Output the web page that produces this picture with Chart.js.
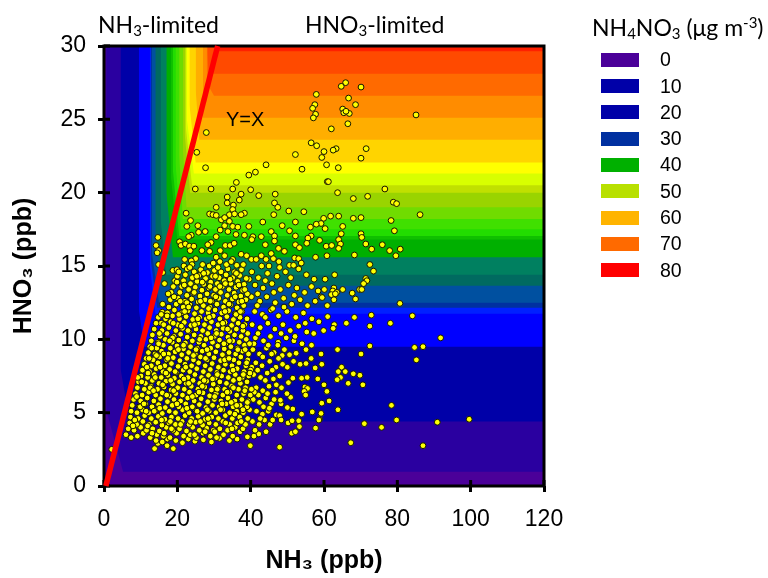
<!DOCTYPE html>
<html>
<head>
<meta charset="utf-8">
<style>
  body { margin: 0; background: #fff; width: 768px; height: 578px; overflow: hidden; position: relative; }
  canvas { position: absolute; left: 0; top: 0; }
  .lbl { position: absolute; white-space: nowrap; color: #000; line-height: 1; }
  .cal { font-family: Lato, sans-serif; font-size: 23px; }
  .cal sub { font-size: 15px; line-height: 0; vertical-align: -3px; }
  .cal sup { font-size: 15px; line-height: 0; vertical-align: 8px; }
  .ari { font-family: "Liberation Sans", sans-serif; }
  .swatch { position: absolute; left: 601px; width: 38px; height: 14px; }
</style>
</head>
<body>
<canvas id="c" width="768" height="578"></canvas>
<div class="lbl cal" style="left:98px;top:13px">NH<sub>3</sub>-limited</div>
<div class="lbl cal" style="left:305px;top:13px">HNO<sub>3</sub>-limited</div>
<div class="lbl cal" style="left:592px;top:16px">NH<sub>4</sub>NO<sub>3</sub> (&mu;g m<sup>-3</sup>)</div>
<div class="lbl ari" style="left:226px;top:109px;font-size:20px">Y=X</div>
<div id="legend"></div>
<script src="https://cdn.jsdelivr.net/npm/chart.js@4"></script>
<script>
// contour bands, lowest level first
const bandColors = ['#4b0099','#2a00a0','#0000a8','#0000ff','#0020ff','#0030a0','#0050a0','#006a60','#008060','#00b000','#10c000','#22dd00','#40e000','#70dc00','#99d400','#c0e000','#d8ff00','#ffff00','#ffd400','#ffae00','#ff8c00','#ff6a00','#ff4a00','#ff2000'];
const bandRightY = [0,0.97,4.4,9.5,11.75,12.15,12.5,13.65,14.4,15.6,16.8,17.05,17.5,18.2,19,20,20.5,21.3,22.05,23.6,25.1,26.6,28.1,29.65];
const bandKneeX = [0,5.2,7,11,14,14.5,15,15.8,17,18.8,20,20.5,21,21.5,22.5,23.5,24,24.5,25,26,27,30,28.5,31];
const bandKneeY = [0,5.2,8,12,15,15.5,16,17,18,20,21,21.5,22,22.5,23,24,24.5,25,26,27,28,27.5,29.5,30];
const bandTopX = [0,0.6,4.5,9.5,12.5,12.7,13,14,15.5,17,18.3,18.8,19.5,20.5,21.5,22,22.3,22.6,23.3,25,27,28,28.2,31];

// legend
const legendLabels = ['0','10','20','30','40','50','60','70','80'];
const legendColors = ['#4b0099','#0000a8','#0000a8','#0030a0','#00b000','#b8e000','#ffb400','#ff6a00','#ff0000'];

// y=x reference line as plotted
const refLineNH3 = [0.5, 31];
const refLineHNO3 = [0, 30];

// [NH3, HNO3]: outliers
const obsSparse = [[27.9,24.1],[25.3,22.75],[27.7,21.7],[24.9,20.25],[29.2,20.25],[35.1,20.25],[36.1,20.7],[39.5,21.2],[41.3,21.4],[44.2,21.9],[40,20.2],[57.9,26.7],[57.5,26],[56.9,25.75],[57.7,25.35],[57.1,25.1],[56.5,23.4],[58,23.2],[60,22.8],[59.4,22.4],[60.7,21.9],[52.2,22.6],[54,21.6],[60.9,20.75],
[65.9,27.5],[64.7,27.25],[70.1,27.2],[66.7,26.45],[68.6,26],[65.1,25.7],[65.4,25.45],[66.9,25.4],[66,25.55],[85.1,25.3],[66.5,24.7],[62,24.35],[71.5,23],[70.1,22.35],[63.3,23],[62.5,22.9],[63.9,21.7],[61.2,20.75],[76.6,20.25],
[63.7,20],[68,19.6],[71.9,19.75],[78.9,19.35],[79.8,19.25],[86.2,18.5],[61.8,18.4],[64,18.4],[68,18.25],[70.1,18.3],[59.9,18.25],[78.3,18.1],[59.2,17.9],[60.3,17.55],[65.1,17.7],[79.2,17.4],[64.7,17.2],[70.1,17.2],[70.3,16.95],[58.8,16.75],[64,16.8],[64.5,16.5],[60.6,16.35],[62.1,16.4],[64,16.2],[71.4,16.5],[75.9,16.45],[73,16.15],[77.9,16.05],[80.8,16.15],[79.6,15.7],[68.3,15.75],[60.8,15.7],[72.5,15.1],[73.5,14.65],[62.9,14.4],[60.3,14.1],[71.4,14.15],[71.7,14],[70.8,13.8],[60.1,13.4],[62.7,13.5],[62.4,13.3],[63.5,13.2],[65.1,13.4],[69.7,13.4],[70.3,13.4],[62,13.05],[63.1,13.1],[67.7,13.15],[59.2,12.9],[59.5,12.85],[68.6,12.75],[62.7,12.7],[80.7,12.45],[60.9,12.3],[61,11.55],[68.3,11.5],[72.9,11.65],[84.1,11.6],[66.1,11.1],[62.8,11],[62.5,10.75],[72.5,10.9],[78.1,11.1],[59.9,10.6],[91.8,10.1],
[72.5,9.55],[63.7,9.3],[59.2,9],[70.1,9],[84.7,9.45],[87,9.5],[85.2,8.6],[59.4,8.3],[64.8,8.1],[63.9,7.8],[65.8,7.8],[68,7.65],[69.8,7.55],[64.5,7.4],[63.6,7.25],[66.6,7],[60,6.9],[70.6,6.9],[60.8,6.45],[61.4,5.8],[59.4,5.65],[78.4,5.5],[63.8,5.2],[59.2,4.95],[58.8,4.55],[79.8,4.5],[99.6,4.55],[90.9,4.35],[71,4.25],[75.7,4],[67.3,2.95],[87,2.75],
[2.1,2.5],[13.8,2.55],[18.9,2.55],[17.2,2.75],[14.7,2.9],[39.9,2.75],[47.9,2.65],[51.2,3.6],[52.2,3.7],[57.7,3.95],[50.2,4.3],[51.3,4.45],[53.1,4.45],[53.3,4.05],[58.6,4.5],[47,4.85],[47.9,4.8],[48.3,4.5],[53.9,4.9],[56.8,5.05],[51.5,5.25],[50,5.35],[48.3,5.6],[48.1,5.85],[50.9,6.05],[49.9,6.3],[54.8,6.75],[55.5,6.65],[54.6,6.45],[55,6.2],[55.4,7.4],[53.9,7.35],[58.3,7.3],[50.3,7.05],[51.5,7.35],[57.6,8.05],[53.5,8.3],[55.1,8.35],[56.5,8.7],[51.7,8.5],[55.1,9.3],[48.6,8.9],[50.6,8.95],[52.4,9.05],[42.2,3.55],[39.1,3.35],[37.1,3.7]];

// upper cloud, HNO3 about 15 to 20
const obsUpper = [[42.2,19.8],[33.6,19.7],[37.4,19.9],[36.9,19.5],[46.7,19.9],[33.6,19.3],[35.3,19.15],[46.5,19.3],[47.4,19],[30.6,19],[35.1,18.85],[34.2,18.5],[35.6,18.55],[50.4,18.75],[54.5,18.7],[22.4,18.6],[28.8,18.55],[29.7,18.5],[30.6,18.45],[38.3,18.6],[37.4,18.5],[46.3,18.5],[23.6,18.1],[32,18.15],[32.9,18.3],[43.3,18],[34.2,18.05],[25.6,17.75],[22.6,17.7],[32.9,17.75],[35.1,17.7],[36.5,17.65],[39.5,17.7],[48.6,17.75],[52.2,18],[56.3,17.65],[57.9,17.85],[31.7,17.45],[25.8,17.3],[27.6,17.35],[33.8,17.35],[45.6,17.35],[50.6,17.4],[30.6,17],[23.8,17.1],[23.1,17],[36,17.15],[38.3,17.1],[40.6,17],[40.3,16.8],[42.9,17],[46.5,17.05],[46.5,16.7],[52.2,17.05],[56.5,17.05],[55.6,16.9],[55.3,16.55],[14.7,16.95],[14.2,16.4],[14.9,16.05],[14.5,15.9],[20.6,16.65],[21,16.4],[22.2,16.5],[23.3,16.35],[23.5,16.05],[24.5,16.35],[29.2,16.6],[28.3,16.45],[28.8,16],[26.7,16.05],[31.7,16.05],[33.1,16.4],[34.4,16.4],[35.5,16.55],[44,16.45],[47.6,16.2],[49.2,16],[52.2,16.45],[53.3,16.25],[37.4,15.8],[38.9,15.7],[40.2,15.45],[41.5,15.45],[42.9,15.7],[44.2,15.45],[45.6,15.85],[46.2,15.5],[52,15.55],[53.1,15.5],[57.7,15.6],[47.7,15.3],[53.8,15.2],[50.6,15.05],[51.7,15.05],[53.1,14.8],[45,15],[22,15.45],[25,15.5],[23.8,15.35],[18.8,14.7],[19.9,14.75],[21.8,15],[30.6,15.6],[32.9,15.7],[35.1,15.45],[31.6,15.3],[14.9,15.1],[16,14.55],[16.5,13.8],[16,12.4],[15.9,11.85],[15.6,11.1]];

// right side of the main cloud, NH3 about 40 to 60
const obsRight = [[40.3,14.6],[42.1,14.2],[44.6,14.5],[47.2,14.3],[49.5,14.6],[55.2,14.4],[57.3,14.1],[41.2,13.7],[43.4,13.5],[45.8,13.8],[48.1,13.4],[50.3,13.7],[52.6,13.5],[54.7,13.2],[56.6,13.6],[58.4,13.3],[40.2,12.9],[42.5,12.6],[44.4,12.9],[46.7,12.5],[49,12.8],[51.2,12.4],[53.5,12.7],[55.5,12.3],[57.6,12.6],[41.1,11.9],[43.2,11.7],[45.5,12],[47.6,11.6],[49.9,11.9],[52.3,11.5],[54.4,11.8],[56.7,11.4],[58.6,11.2],[40.4,11],[42.6,10.8],[44.7,11.1],[46.6,10.7],[48.8,11],[50.8,10.6],[53.1,10.9],[55.3,10.5],[57.2,10.4],[41.3,10.1],[43.5,9.9],[45.4,10.2],[47.5,9.8],[49.7,10.1],[51.8,9.9],[54,9.7],[56.6,9.6],[40.6,9.3],[42.4,9],[44.3,9.4],[46.4,9.1],[47.4,9.6],[41.4,8.4],[43.1,8.2],[45.2,8.5],[46.9,8.1],[48.7,8.3],[50,8.1],[40.8,7.6],[42.7,7.4],[44.5,7.7],[46.2,7.3],[47.9,7.5],[41.5,6.7],[43.3,6.5],[45,6.8],[46.8,6.4],[48.4,6.7],[40.7,5.9],[42.4,5.7],[44.1,6],[45.7,5.6],[41.6,5.1],[43.2,4.9],[44.8,5.1],[40.5,4.4],[42.3,4.2],[43.8,4.5],[45.3,4.2],[41.2,3.8],
[41.9,13.1],[39.6,14.1],[44,14],[46.3,13.2],[49.1,12.2],[51.9,13],[47.9,14.9],[43,15],[50.9,14.2],[41.8,12.3],[44,11.5],[46,12.1],[48.3,10.4],[52.1,10.2],[54.9,11.1],[42,10.4],[44.8,9.6],[40.9,9.7],[43.3,8.8],[45.7,9],[49.2,9.3],[47.6,8.7],[41.9,7.9],[44,7.2],[45.9,7.9],[40.3,8.1],[47,6.9],[42.1,6.2],[44.6,6.3],[46.4,5.9],[41,6.4],[43.5,5.4],[45.1,5.3],[42.6,4.6],[46,4.5],[40.9,3.4],[44.2,3.7]];

// dense core, read row by row from the crop
const obsCoreLow = [[14.2,3.1],[15.9,3],[17.3,3.2],[19.6,3.1],[21.4,2.95],[23,3.2],[24.8,3.05],[27.1,3.15],[29.3,3],[31.5,3.25],[34.2,3.1],[36.3,3.2],
[6,3.5],[7.4,3.3],[9.1,3.4],[10.7,3.6],[12.6,3.3],[14.4,3.5],[16.2,3.4],[18,3.3],[19.8,3.6],[21.7,3.4],[23.5,3.5],[25.2,3.3],[27,3.6],[29,3.4],[30.7,3.3],[32.6,3.5],[35.1,3.4],
[6.6,3.9],[8.2,3.8],[10,4],[11.6,3.8],[13.3,3.9],[15.1,3.75],[17,4],[18.8,3.8],[20.6,3.9],[22.5,3.75],[24.2,4],[26,3.8],[28,3.95],[29.8,3.8],[31.6,3.9],[33.7,3.8],[35.8,4],[37.9,3.9],
[7,4.3],[8.9,4.2],[10.6,4.4],[12.3,4.2],[14.1,4.35],[15.8,4.15],[17.7,4.3],[19.5,4.2],[21.3,4.4],[23.2,4.2],[25,4.35],[26.9,4.15],[28.7,4.3],[30.5,4.2],[32.4,4.4],[34.3,4.2],[36.4,4.3],[38.6,4.2],
[7.2,4.7],[9.3,4.6],[11.1,4.8],[12.9,4.6],[14.8,4.75],[16.6,4.55],[18.4,4.7],[20.2,4.6],[22.1,4.8],[23.9,4.6],[25.7,4.75],[27.6,4.55],[29.4,4.7],[31.2,4.6],[33.1,4.8],[35,4.6],[37,4.7],[39.2,4.6],
[7.4,5.1],[9,5],[10.5,5.2],[12.2,5],[14,5.15],[15.9,4.95],[17.8,5.1],[19.5,5],[21.4,5.2],[23.2,5],[25.1,5.15],[26.9,4.95],[28.7,5.1],[30.5,5],[32.4,5.2],[34.3,5],[36.2,5.1],[38,5],[39.7,5.2],
[7.7,5.5],[9.6,5.4],[11.3,5.6],[13.1,5.4],[14.9,5.55],[16.7,5.35],[18.6,5.5],[20.4,5.4],[22.3,5.6],[24.1,5.4],[26,5.55],[27.8,5.35],[29.6,5.5],[31.4,5.4],[33.3,5.6],[35.2,5.4],[37.1,5.5],[39,5.4],
[8.1,5.9],[10,5.8],[11.8,6],[13.6,5.8],[15.4,5.95],[17.3,5.75],[19.1,5.9],[20.9,5.8],[22.8,6],[24.6,5.8],[26.5,5.95],[28.3,5.75],[30.1,5.9],[31.9,5.8],[33.8,6],[35.7,5.8],[37.6,5.9],[39.3,5.8],
[8.6,6.3],[10.4,6.2],[12.2,6.4],[14.1,6.2],[15.9,6.35],[17.8,6.15],[19.6,6.3],[21.4,6.2],[23.3,6.4],[25.1,6.2],[27,6.35],[28.8,6.15],[30.6,6.3],[32.4,6.2],[34.3,6.4],[36.2,6.2],[38.1,6.3],[39.9,6.2],
[9.1,6.7],[11,6.6],[12.8,6.8],[14.6,6.6],[16.4,6.75],[18.3,6.55],[20.1,6.7],[21.9,6.6],[23.8,6.8],[25.6,6.6],[27.5,6.75],[29.3,6.55],[31.1,6.7],[32.9,6.6],[34.8,6.8],[36.7,6.6],[38.6,6.7],[40.2,6.6],
[9.4,7.1],[11.3,7],[13.2,7.2],[15,7],[16.9,7.15],[18.7,6.95],[20.6,7.1],[22.4,7],[24.3,7.2],[26.1,7],[28,7.15],[29.8,6.95],[31.6,7.1],[33.4,7],[35.3,7.2],[37.2,7],[39,7.1],
[10.1,7.5],[11.9,7.4],[13.7,7.6],[15.6,7.4],[17.4,7.55],[19.2,7.35],[21.1,7.5],[22.9,7.4],[24.8,7.6],[26.6,7.4],[28.5,7.55],[30.3,7.35],[32.1,7.5],[33.9,7.4],[35.8,7.6],[37.7,7.4],[39.5,7.5],
[10.5,7.9],[12.4,7.8],[14.2,8],[16.1,7.8],[17.9,7.95],[19.7,7.75],[21.6,7.9],[23.4,7.8],[25.3,8],[27.1,7.8],[29,7.95],[30.8,7.75],[32.6,7.9],[34.4,7.8],[36.3,8],[38.2,7.8],[40,7.9]];
const obsCoreHigh = [[11,8.3],[12.9,8.2],[14.7,8.4],[16.6,8.2],[18.4,8.35],[20.2,8.15],[22.1,8.3],[23.9,8.2],[25.8,8.4],[27.6,8.2],[29.5,8.35],[31.3,8.15],[33.1,8.3],[34.9,8.2],[36.8,8.4],[38.7,8.2],
[11.5,8.7],[13.4,8.6],[15.2,8.8],[17.1,8.6],[18.9,8.75],[20.7,8.55],[22.6,8.7],[24.4,8.6],[26.3,8.8],[28.1,8.6],[30,8.75],[31.8,8.55],[33.6,8.7],[35.4,8.6],[37.3,8.8],[39.2,8.6],
[12.1,9.1],[13.9,9],[15.7,9.2],[17.6,9],[19.4,9.15],[21.2,8.95],[23.1,9.1],[24.9,9],[26.8,9.2],[28.6,9],[30.5,9.15],[32.3,8.95],[34.1,9.1],[35.9,9],[37.8,9.2],[39.4,9],
[12.5,9.5],[14.4,9.4],[16.2,9.6],[18.1,9.4],[19.9,9.55],[21.7,9.35],[23.6,9.5],[25.4,9.4],[27.3,9.6],[29.1,9.4],[31,9.55],[32.8,9.35],[34.6,9.5],[36.4,9.4],[38.3,9.6],
[12.9,9.9],[14.8,9.8],[16.7,10],[18.6,9.8],[20.4,9.95],[22.2,9.75],[24.1,9.9],[25.9,9.8],[27.8,10],[29.6,9.8],[31.5,9.95],[33.3,9.75],[35.1,9.9],[36.9,9.8],[38.8,10],
[13.2,10.3],[15.3,10.2],[17.2,10.4],[19.1,10.2],[20.9,10.35],[22.7,10.15],[24.6,10.3],[26.4,10.2],[28.3,10.4],[30.1,10.2],[32,10.35],[33.8,10.15],[35.6,10.3],[37.4,10.2],[39.2,10.4],
[13.7,10.7],[15.8,10.6],[17.7,10.8],[19.6,10.6],[21.4,10.75],[23.2,10.55],[25.1,10.7],[26.9,10.6],[28.8,10.8],[30.6,10.6],[32.5,10.75],[34.3,10.55],[36.1,10.7],[37.9,10.6],
[14.2,11.1],[16.3,11],[18.2,11.2],[20.1,11],[21.9,11.15],[23.7,10.95],[25.6,11.1],[27.4,11],[29.3,11.2],[31.1,11],[33,11.15],[34.8,10.95],[36.6,11.1],[38.4,11],
[14.8,11.5],[16.8,11.4],[18.7,11.6],[20.6,11.4],[22.4,11.55],[24.2,11.35],[26.1,11.5],[27.9,11.4],[29.8,11.6],[31.6,11.4],[33.5,11.55],[35.3,11.35],[37.1,11.5],[39,11.4],
[17.3,11.8],[19.2,12],[21.1,11.8],[22.9,11.95],[24.7,11.75],[26.6,11.9],[28.4,11.8],[30.3,12],[32.1,11.8],[34,11.95],[35.8,11.75],[37.6,11.9],
[17.7,12.2],[19.7,12.4],[21.6,12.2],[23.4,12.35],[25.2,12.15],[27.1,12.3],[28.9,12.2],[30.8,12.4],[32.6,12.2],[34.5,12.35],[36.3,12.15],[38.1,12.3],
[18.1,12.7],[20.2,12.8],[22.1,12.6],[23.9,12.75],[25.7,12.55],[27.6,12.7],[29.4,12.6],[31.3,12.8],[33.1,12.6],[35,12.75],[36.8,12.55],[38.7,12.7],
[18.3,13.2],[20.7,13.2],[22.6,13],[24.4,13.15],[26.2,12.95],[28.1,13.1],[29.9,13],[31.8,13.2],[33.6,13],[35.5,13.15],[37.3,12.95],[39.1,13.1],
[18.9,13.6],[21.2,13.6],[23.1,13.4],[24.9,13.55],[26.7,13.35],[28.6,13.5],[30.4,13.4],[32.3,13.6],[34.1,13.4],[36,13.55],[37.8,13.35],
[19.3,14],[21.7,14],[23.6,13.8],[25.4,13.95],[27.2,13.75],[29.1,13.9],[30.9,13.8],[32.8,14],[34.6,13.8],[36.5,13.95],[38.2,13.75],
[20,14.3],[22.2,14.4],[24.1,14.2],[25.9,14.35],[27.7,14.15],[29.6,14.3],[31.4,14.2],[33.3,14.4],[35.1,14.2],[37,14.35],[38.8,14.15],
[22.7,14.8],[24.6,14.6],[26.4,14.75],[28.2,14.55],[30.1,14.7],[31.9,14.6],[33.8,14.8],[35.6,14.6],[37.5,14.75],[26.9,15.1],[28.7,15],[33.4,15.1],[36.2,15.05],[38,15.1]];

// more of the core, the marks that sit over the rows above
const obsCoreTop = [[8.4,4.5],[11.9,4.1],[16.4,3.6],[20.9,4.2],[27.6,3.7],[33.2,4.3],[37.4,4.4],[9.9,5.4],[13.7,5.1],[18.1,4.4],[22.6,5.3],[26.3,4.4],[31.8,5.2],[35.7,4.9],[39.1,5.7],[8.9,6.1],[12.6,6.7],[15.2,5.3],[19,6.5],[24.1,6.1],[28.2,5.2],[30.9,6.6],[34.7,5.7],[38.4,6.5],[10.3,7.1],[14,7.4],[17.1,6.2],[21.8,7.3],[25.9,6.4],[29.6,7.3],[33.6,6.4],[36.9,7.3],[11.7,8.1],[15.3,8.1],[18.2,7.2],[22.3,8.1],[27.3,7.2],[31.2,8.1],[35.2,7.9],[38.9,8.4],[13,9.4],[16.3,9],[20.3,9.3],[24.4,8.9],[28.1,9.3],[32.9,8.6],[36.5,9.3],[39.7,9.7],[15.1,10.4],[18.7,10.1],[22.9,10.6],[26.1,10],[30.7,10.4],[34.2,9.9],[37.9,10.9],[17.2,11.6],[20.4,11.7],[24.7,11],[28.7,11.5],[32.4,11.1],[36,11.7],[19.1,12.9],[22.6,12.5],[26.3,12.6],[30.5,12.9],[34.1,12.4],[37.6,12.6],[21.9,13.7],[25.3,14.3],[28.9,13.6],[33.1,13.8],[36.8,13.7],[24,15.1],[29.8,15.2],[34.7,15.3],[7.9,4.1],[10.9,5.6],[12,7.7],[14.3,8.9],[16,6.9],[19.4,7.8],[23.1,7],[25.4,5.1],[27.7,8.7],[30.2,6.1],[32.7,9.7],[35.3,6.7],[37.9,5.2],[39.8,7.7],[13.1,3.6],[18.4,3.9],[24.7,3.5],[30.2,3.7],[34.9,3.9],[15.6,11.7],[17.9,9.9],[21.1,10.9],[25.1,9.3],[29.2,10.1],[33.7,10.7],[38.5,9.3],[20.8,12.6],[24.6,13.2],[28.5,12.1],[31.6,13.6],[35.8,12.9],[20.4,14.6],[23.4,14.9],[27.2,14.5],[31.1,14.9],[36.1,14.5],[9.2,7.4],[11.5,5.1],[13.5,6.5],[15.7,4.5],[17.4,8.7],[19.9,5.6],[21.7,9.6],[23.6,4.4],[26.8,6.8],[28.4,4.6],[30.9,7.6],[32.2,5.6],[34.1,8.7],[36.2,5.5],[38,7.6],[12.3,8.7],[14.9,9.7],[16.9,7.7],[18.9,11.1],[22,11.9],[25.6,11.4],[29,12.6],[33,11.9],[37.2,11.9],[17.5,13.1],[19.9,13.9],[23.1,12.2],[26.8,13.9],[30.4,14.3],[34.4,14.1],[38.4,13.4]];

const observations = [...obsSparse, ...obsUpper, ...obsRight, ...obsCoreLow, ...obsCoreHigh, ...obsCoreTop].map(p => ({x: p[0], y: p[1]}));

// legend is plain DOM, the subscript in its title does not work on canvas
const legendBox = document.getElementById('legend');
legendLabels.forEach((label, i) => {
    const top = 52.7 + i * 26.3;
    legendBox.insertAdjacentHTML('beforeend',
        `<div class="swatch" style="top:${top}px;background:${legendColors[i]}"></div>` +
        `<div class="lbl ari" style="left:660px;top:${top - 2.5}px;font-size:19.5px">${label}</div>`);
});

const bandDatasets = bandColors.map((color, i) => ({
    data: [
        {x: bandTopX[i], y: 30},
        {x: bandTopX[i], y: bandKneeY[i]},
        {x: bandKneeX[i], y: bandRightY[i]},
        {x: 120, y: bandRightY[i]}
    ],
    backgroundColor: color,
    fill: 'end',
    borderWidth: 0,
    pointRadius: 0,
    tension: 0,
    order: 100 - i
}));

// frame and the inner half of the tick marks, drawn just under the red line
const frameTicks = {
    id: 'frameTicks',
    beforeDatasetDraw(chart, args) {
        if (args.index !== 0) return;
        const {ctx, chartArea: a, scales} = chart;
        ctx.save();
        ctx.strokeStyle = '#000';
        ctx.lineWidth = 3;
        ctx.strokeRect(a.left, a.top, a.right - a.left, a.bottom - a.top);
        ctx.beginPath();
        scales.x.ticks.forEach(t => {
            const px = scales.x.getPixelForValue(t.value);
            ctx.moveTo(px, a.bottom - 6);
            ctx.lineTo(px, a.bottom);
        });
        scales.y.ticks.forEach(t => {
            const py = scales.y.getPixelForValue(t.value);
            ctx.moveTo(a.left, py);
            ctx.lineTo(a.left + 6, py);
        });
        ctx.stroke();
        ctx.restore();
    }
};

new Chart(document.getElementById('c'), {
    type: 'line',
    data: {
        datasets: [
            {
                data: refLineNH3.map((x, i) => ({x, y: refLineHNO3[i]})),
                borderColor: '#ff0000',
                borderWidth: 5.5,
                pointRadius: 0,
                fill: false,
                clip: false,
                order: 0
            },
            {
                data: observations,
                showLine: false,
                pointRadius: 2.9,
                pointBackgroundColor: '#ffff00',
                pointBorderColor: '#141400',
                pointBorderWidth: 1,
                order: 1
            },
            ...bandDatasets
        ]
    },
    options: {
        responsive: false,
        animation: false,
        layout: {padding: {top: 46, right: 224, left: 0, bottom: 0}},
        plugins: {legend: {display: false}, tooltip: {enabled: false}},
        scales: {
            x: {
                type: 'linear',
                min: 0,
                max: 120,
                ticks: {stepSize: 20, color: '#000', padding: 14, maxRotation: 0, font: {family: 'Liberation Sans', size: 23}},
                grid: {drawOnChartArea: false, color: '#000', lineWidth: 3, tickLength: 6},
                border: {display: false},
                title: {display: true, text: 'NH\u2083 (ppb)', color: '#000', padding: {top: 0, bottom: 2}, font: {family: 'Liberation Sans', size: 25, weight: 'bold'}},
                afterFit(scale) { scale.height = 92; }
            },
            y: {
                min: 0,
                max: 30,
                ticks: {stepSize: 5, color: '#000', padding: 12, font: {family: 'Liberation Sans', size: 23}},
                grid: {drawOnChartArea: false, color: '#000', lineWidth: 3, tickLength: 6},
                border: {display: false},
                title: {display: true, text: 'HNO\u2083 (ppb)', color: '#000', padding: {top: 9, bottom: 0}, font: {family: 'Liberation Sans', size: 25, weight: 'bold'}},
                afterFit(scale) { scale.width = 104; }
            }
        }
    },
    plugins: [frameTicks]
});
</script>
</body>
</html>
